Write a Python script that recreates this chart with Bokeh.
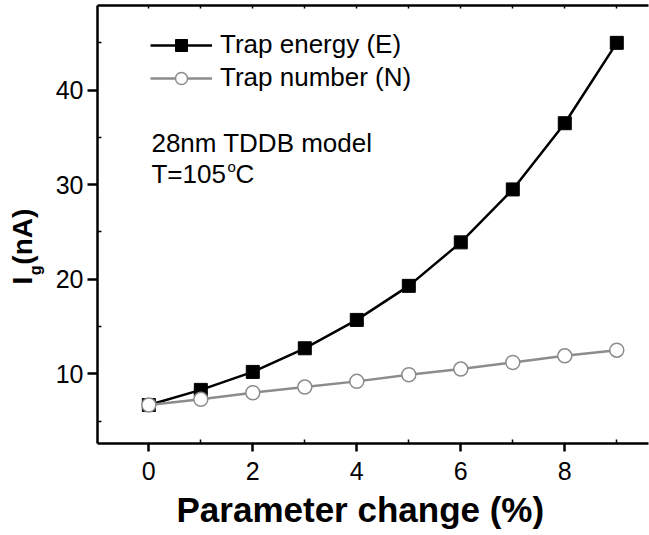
import math
from bokeh.plotting import figure
from bokeh.layouts import row
from bokeh.models import Range1d, LinearAxis, FixedTicker, Label, Legend, LegendItem, Title
from bokeh.embed import file_html
from bokeh.resources import INLINE

param_change = [0, 1, 2, 3, 4, 5, 6, 7, 8, 9]
trap_energy = [6.7, 8.3, 10.2, 12.7, 15.7, 19.3, 23.9, 29.5, 36.5, 45.0]
trap_number = [6.7, 7.3, 8.0, 8.6, 9.2, 9.9, 10.5, 11.2, 11.9, 12.5]
x_ticks = [0, 2, 4, 6, 8]
y_ticks = [10, 20, 30, 40]

FONT = "Liberation Sans"
GRAY = "#8c8c8c"
H = 534
TW = 45  # width of the y-title strip

p = figure(width=649 - TW, height=H, output_backend="svg", toolbar_location=None,
           x_range=Range1d(-0.987, 9.61), y_range=Range1d(2.63, 48.95),
           min_border_left=97 - TW, min_border_right=1, min_border_top=5, min_border_bottom=89,
           x_axis_location=None, y_axis_location=None)
p.outline_line_color = None
p.grid.visible = False
p.background_fill_color = "white"

def style_axis(ax):
    ax.axis_line_color = "black"
    ax.axis_line_width = 2.5
    ax.major_tick_line_color = "black"
    ax.major_tick_line_width = 2.5
    ax.minor_tick_line_color = "black"
    ax.minor_tick_line_width = 1.5
    ax.major_label_text_font = FONT
    ax.major_label_text_font_size = "25px"
    ax.major_label_text_color = "black"

xb = LinearAxis(ticker=FixedTicker(ticks=x_ticks, minor_ticks=[1, 3, 5, 7, 9]))
style_axis(xb)
xb.major_tick_out = 8
xb.major_tick_in = 0
xb.minor_tick_in = 4
xb.minor_tick_out = 0
xb.major_label_standoff = 10
p.add_layout(xb, "below")

yl = LinearAxis(ticker=FixedTicker(ticks=y_ticks, minor_ticks=[5, 15, 25, 35, 45]))
style_axis(yl)
yl.major_tick_out = 10
yl.major_tick_in = 0
yl.minor_tick_in = 4
yl.minor_tick_out = 0
yl.major_label_standoff = 4
p.add_layout(yl, "left")

xt = LinearAxis(ticker=FixedTicker(ticks=param_change, minor_ticks=[]))
style_axis(xt)
xt.major_tick_out = 0
xt.major_tick_in = 3
xt.major_tick_line_width = 1.5
xt.major_label_overrides = {t: "" for t in param_change}
xt.major_label_text_font_size = "1px"
xt.major_label_standoff = 0
p.add_layout(xt, "above")

lE = p.line(param_change, trap_energy, line_color="black", line_width=2.5)
sE = p.scatter(param_change, trap_energy, marker="square", size=13,
               fill_color="black", line_color="black")
lN = p.line(param_change, trap_number, line_color=GRAY, line_width=2.5)
sN = p.scatter(param_change, trap_number, marker="circle", size=14,
               fill_color="white", line_color=GRAY, line_width=1.5)

legend = Legend(items=[LegendItem(label="Trap energy (E)", renderers=[lE, sE]),
                       LegendItem(label="Trap number (N)", renderers=[lN, sN])],
                location=(53, 350), padding=0, margin=0, spacing=2,
                glyph_width=62, glyph_height=30, label_height=30, label_standoff=8,
                border_line_color=None, background_fill_alpha=0,
                label_text_font=FONT, label_text_font_size="26px", label_text_color="black")
p.add_layout(legend, "center")

def lab(fig, x, y, text, size, bold=False, angle=0):
    fig.add_layout(Label(x=x, y=y, text=text, text_font=FONT, text_font_size=size,
                         text_font_style="bold" if bold else "normal", angle=angle,
                         text_align="left", text_baseline="alphabetic", text_color="black"))

lab(p, 0.05, 34.45, "28nm TDDB model", "26px")
lab(p, 0.05, 31.16, "T=105", "26px")
lab(p, 1.513, 31.97, "o", "15px")
lab(p, 1.667, 31.16, "C", "26px")

# x axis title
p.add_layout(Title(text="Parameter change (%)", align="left", offset=79,
                   text_font=FONT, text_font_size="35px", text_font_style="bold",
                   text_color="black", standoff=11), "below")

# y axis title strip (its own small figure, coordinates in pixels)
t = figure(width=TW, height=H, output_backend="svg", toolbar_location=None,
           x_range=Range1d(0, TW), y_range=Range1d(0, H), min_border=0,
           x_axis_location=None, y_axis_location=None)
t.outline_line_color = None
t.grid.visible = False
lab(t, 22, H - 340, "I", "28px", bold=True, angle=math.pi / 2)
lab(t, 35, H - 329, "g", "16px", bold=True, angle=math.pi / 2)
lab(t, 22, H - 316, "(nA)", "28px", bold=True, angle=math.pi / 2)

layout = row(t, p, spacing=0)
open("out.html", "w").write(file_html(layout, INLINE))
